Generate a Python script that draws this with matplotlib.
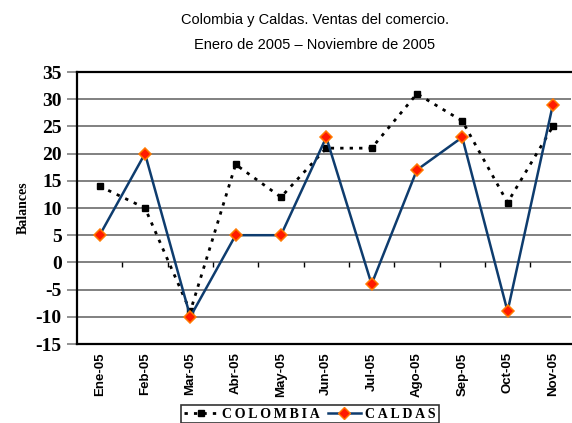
import numpy as np
import matplotlib
matplotlib.use('Agg')
import matplotlib.pyplot as plt
from matplotlib.lines import Line2D

meses = ['Ene-05', 'Feb-05', 'Mar-05', 'Abr-05', 'May-05', 'Jun-05',
         'Jul-05', 'Ago-05', 'Sep-05', 'Oct-05', 'Nov-05']
colombia = [14, 10, -9, 18, 12, 21, 21, 31, 26, 11, 25]
caldas = [5, 20, -10, 5, 5, 23, -4, 17, 23, -9, 29]
yticks = np.arange(-15, 40, 5)

fig = plt.figure(figsize=(5.72, 4.23), dpi=100)
ax = fig.add_axes([77/572, 1-344/423, 494/572, 272/423])

x = np.arange(len(meses))
for t in yticks[1:-1]:
    ax.axhline(t, color='#808080', lw=1.4, zorder=1)

ax.plot(x, colombia, color='black', lw=2, ls=(0, (1.2, 2.2)),
        marker='s', ms=5, mfc='black', mec='black', zorder=3)
ax.plot(x, caldas, color='#0E3C6E', lw=1.8,
        marker='D', ms=6, mfc='#FF1A00', mec='#FF7A00', mew=1.1, zorder=4)

# small ticks on the zero line between categories
ax.vlines(x[:-1] + 0.5, -0.8, 0, color='black', lw=1, zorder=2)

ax.set_xlim(-0.5, 10.4)
ax.set_ylim(-15, 35)
ax.set_yticks(yticks)
ax.set_yticklabels([str(v) for v in yticks], family='Liberation Serif',
                   fontweight='bold', fontsize=14)
ax.set_xticks(x)
ax.set_xticklabels(meses, rotation=90, family='Liberation Sans',
                   fontweight='bold', fontsize=9.5)
ax.tick_params(axis='x', length=0, pad=6)
ax.tick_params(axis='y', length=7, width=1.2, color='#808080', pad=4)
for s in ['left', 'bottom', 'top']:
    ax.spines[s].set_linewidth(1.6)
    ax.spines[s].set_color('black')
ax.spines['right'].set_visible(False)

ax.set_ylabel('Balances', family='Liberation Serif', fontweight='bold',
              fontsize=10, labelpad=4)

fig.text(315/572, 1-20/423, 'Colombia y Caldas. Ventas del comercio.',
         ha='center', va='center', family='Liberation Sans', fontsize=10.5)
fig.text(315/572, 1-45/423, 'Enero de 2005 \u2013 Noviembre de 2005',
         ha='center', va='center', family='Liberation Sans', fontsize=10.5)

h1 = Line2D([], [], color='black', lw=2, ls=(0, (1.2, 2.2)), marker='s',
            ms=5, mfc='black', mec='black')
h2 = Line2D([], [], color='#0E3C6E', lw=1.8, marker='D', ms=6,
            mfc='#FF1A00', mec='#FF7A00')
leg = fig.legend([h1, h2], ['C O L O M B I A', 'C A L D A S'], loc='center',
                 bbox_to_anchor=(310/572, 1-414/423), ncol=2,
                 prop={'family': 'Liberation Serif', 'weight': 'bold', 'size': 10},
                 frameon=True, fancybox=False, handlelength=2.4,
                 handletextpad=0.3, columnspacing=0.6, borderpad=0.2)
leg.get_frame().set_edgecolor('black')
leg.get_frame().set_linewidth(1.2)
for t in leg.get_texts():
    t.set_text(t.get_text().replace(' ', '\u2009'))

fig.savefig('out.png', dpi=100)
